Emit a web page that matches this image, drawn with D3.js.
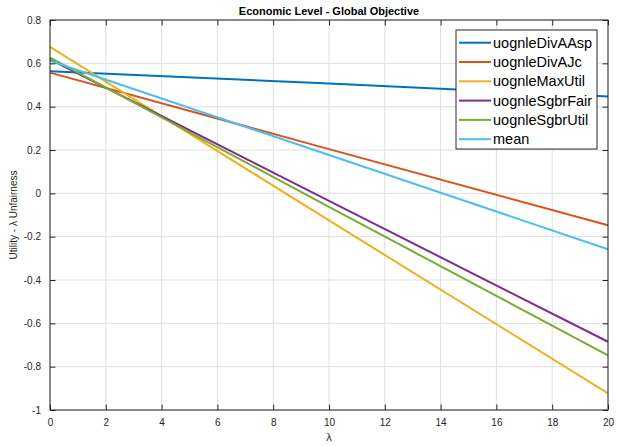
<!DOCTYPE html>
<html>
<head>
<meta charset="utf-8">
<script src="https://cdn.jsdelivr.net/npm/d3@7"></script>
<style>
  body { margin: 0; background: #fff; }
  svg { display: block; font-family: "Liberation Sans", Arial, sans-serif; }
</style>
</head>
<body>
<script>

// data (values at lambda = 0, 10, 20)
var lambdas = [0, 10, 20];
var seriesNames = ["uognleDivAAsp", "uognleDivAJc", "uognleMaxUtil", "uognleSgbrFair", "uognleSgbrUtil", "mean"];
var divAAsp  = [0.564, 0.507, 0.447];
var divAJc   = [0.557, 0.204, -0.147];
var maxUtil  = [0.676, -0.125, -0.923];
var sgbrFair = [0.618, -0.035, -0.685];
var sgbrUtil = [0.626, -0.062, -0.748];
var meanVals = [0.612, 0.177, -0.258];
var colours  = ["#0072BD", "#D95319", "#EDB120", "#7E2F8E", "#77AC30", "#4DBEEE"];
var xTicks = [0, 2, 4, 6, 8, 10, 12, 14, 16, 18, 20];
var yTicks = [-1, -0.8, -0.6, -0.4, -0.2, 0, 0.2, 0.4, 0.6, 0.8];

var allSeries = [divAAsp, divAJc, maxUtil, sgbrFair, sgbrUtil, meanVals];

var width = 621, height = 446;
var plotLeft = 50, plotRight = 608, plotTop = 20, plotBottom = 410;
var axisCol = "#262626";

var svg = d3.select("body").append("svg")
            .attr("width", width)
            .attr("height", height);

var x = d3.scaleLinear().domain([0, 20]).range([plotLeft, plotRight]);
var y = d3.scaleLinear().domain([-1, 0.8]).range([plotBottom, plotTop]);

// grid
svg.append("g").selectAll("line").data(xTicks).enter().append("line")
   .attr("x1", function(d){ return x(d); }).attr("x2", function(d){ return x(d); })
   .attr("y1", plotTop).attr("y2", plotBottom)
   .style("stroke", "#dfdfdf").style("stroke-width", 1);
svg.append("g").selectAll("line").data(yTicks).enter().append("line")
   .attr("x1", plotLeft).attr("x2", plotRight)
   .attr("y1", function(d){ return y(d); }).attr("y2", function(d){ return y(d); })
   .style("stroke", "#dfdfdf").style("stroke-width", 1);

// lines
var lineGen = d3.line()
             .x(function(d, i){ return x(lambdas[i]); })
             .y(function(d){ return y(d); });

svg.append("g").selectAll("path").data(allSeries).enter().append("path")
   .attr("d", lineGen)
   .style("fill", "none")
   .style("stroke", function(d, i){ return colours[i]; })
   .style("stroke-width", 2);

// axes (ticks inside, box on)
var tl = 5.5;
var xAxisB = d3.axisBottom(x).tickValues(xTicks).tickSize(-tl).tickPadding(9).tickFormat(d3.format("d"));
var xAxisT = d3.axisTop(x).tickValues(xTicks).tickSize(-tl).tickFormat("");
var yAxisL = d3.axisLeft(y).tickValues(yTicks).tickSize(-tl).tickPadding(9)
               .tickFormat(function(d){ return String(+d.toFixed(1)); });
var yAxisR = d3.axisRight(y).tickValues(yTicks).tickSize(-tl).tickFormat("");

function axisStyle(g){
  g.select(".domain").remove();
  g.selectAll("line").style("stroke", axisCol);
  g.selectAll("text").style("fill", axisCol).style("font-size", "10px")
   .style("font-family", "Liberation Sans, Arial, sans-serif");
}

svg.append("g").attr("transform", "translate(0," + plotBottom + ")").call(xAxisB).call(axisStyle);
svg.append("g").attr("transform", "translate(0," + plotTop + ")").call(xAxisT).call(axisStyle);
svg.append("g").attr("transform", "translate(" + plotLeft + ",0)").call(yAxisL).call(axisStyle);
svg.append("g").attr("transform", "translate(" + plotRight + ",0)").call(yAxisR).call(axisStyle);

svg.append("rect")
   .attr("x", plotLeft).attr("y", plotTop)
   .attr("width", plotRight - plotLeft).attr("height", plotBottom - plotTop)
   .style("fill", "none").style("stroke", axisCol).style("stroke-width", 1);

// title and labels
svg.append("text")
   .attr("x", (plotLeft + plotRight) / 2).attr("y", 15)
   .attr("text-anchor", "middle")
   .style("font-size", "11px").style("font-weight", "bold").style("fill", "#000")
   .text("Economic Level - Global Objective");

svg.append("text")
   .attr("x", (plotLeft + plotRight) / 2).attr("y", 441)
   .attr("text-anchor", "middle")
   .style("font-size", "11px").style("fill", axisCol)
   .text("\u03bb");

svg.append("text")
   .attr("transform", "translate(17," + ((plotTop + plotBottom) / 2) + ") rotate(-90)")
   .attr("text-anchor", "middle")
   .style("font-size", "10px").style("fill", axisCol)
   .text("Utility - \u03bb Unfairness");

// legend
var legend = svg.append("g");
legend.append("rect")
      .attr("x", 456).attr("y", 30)
      .attr("width", 141).attr("height", 119)
      .style("fill", "#fff").style("stroke", axisCol).style("stroke-width", 1);

var items = legend.selectAll("g.item").data(seriesNames).enter().append("g")
                  .attr("transform", function(d, i){ return "translate(0," + (42.7 + i * 19.3) + ")"; });
items.append("line")
     .attr("x1", 459).attr("x2", 491)
     .style("stroke", function(d, i){ return colours[i]; })
     .style("stroke-width", 2);
items.append("text")
     .attr("x", 493).attr("y", 5)
     .style("font-size", "14.5px").style("fill", "#000")
     .text(function(d){ return d; });

</script>
</body>
</html>
